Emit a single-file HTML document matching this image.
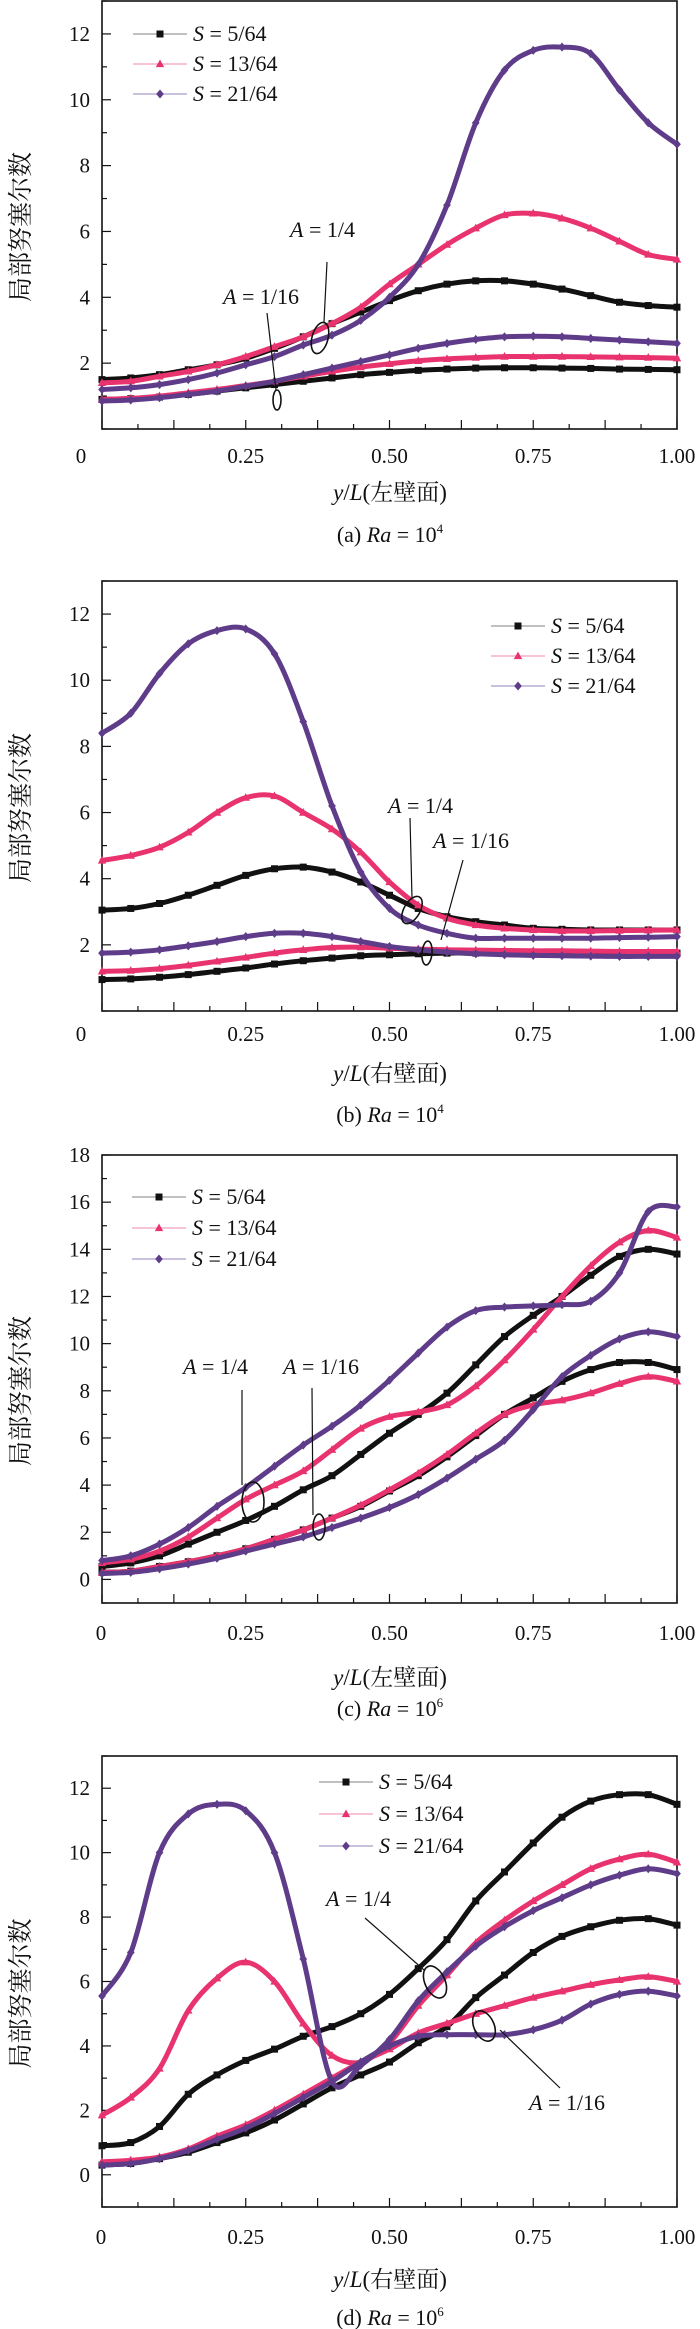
<!DOCTYPE html>
<html><head><meta charset="utf-8">
<style>
html,body{margin:0;padding:0;background:#fff;}
svg{display:block;}
text{font-family:"Liberation Serif","Noto Serif CJK SC","Noto Sans CJK SC",serif;fill:#111;}
</style></head>
<body>
<svg id="fig" width="700" height="2329" viewBox="0 0 700 2329" xmlns="http://www.w3.org/2000/svg"></svg>
<script>
// ---------- data ----------
const xs = [0,0.05,0.1,0.15,0.2,0.25,0.3,0.35,0.4,0.45,0.5,0.55,0.6,0.65,0.7,0.75,0.8,0.85,0.9,0.95,1];
const seriesNames = ["S = 5/64","S = 13/64","S = 21/64"];
const xTickLabels = ["0","0.25","0.50","0.75","1.00"];
const xTickValues = [0,0.25,0.5,0.75,1];
// panel a : Ra=1e4 left wall
const a_s5_q  = [1.5,1.55,1.65,1.8,1.95,2.15,2.45,2.8,3.2,3.55,3.9,4.2,4.4,4.5,4.5,4.4,4.25,4.05,3.85,3.75,3.7];
const a_s13_q = [1.4,1.45,1.6,1.75,1.95,2.2,2.5,2.8,3.2,3.7,4.4,5.0,5.6,6.1,6.5,6.55,6.4,6.1,5.7,5.3,5.15];
const a_s21_q = [1.2,1.25,1.35,1.5,1.7,1.95,2.2,2.55,2.85,3.3,4.0,5.0,6.8,9.3,10.9,11.5,11.6,11.4,10.3,9.3,8.65];
const a_s5_s  = [0.9,0.92,0.97,1.05,1.15,1.25,1.35,1.45,1.55,1.65,1.72,1.78,1.82,1.85,1.86,1.86,1.85,1.84,1.82,1.81,1.8];
const a_s13_s = [0.9,0.93,1.0,1.1,1.2,1.32,1.45,1.6,1.75,1.88,1.98,2.07,2.13,2.17,2.2,2.2,2.2,2.19,2.18,2.17,2.15];
const a_s21_s = [0.85,0.88,0.95,1.05,1.15,1.3,1.45,1.65,1.85,2.05,2.25,2.45,2.6,2.72,2.8,2.82,2.8,2.75,2.7,2.65,2.6];
// panel b : Ra=1e4 right wall
const b_s5_q  = [3.05,3.1,3.25,3.5,3.8,4.1,4.3,4.35,4.2,3.9,3.5,3.1,2.85,2.7,2.6,2.5,2.47,2.45,2.45,2.45,2.45];
const b_s13_q = [4.55,4.7,4.95,5.4,6.0,6.45,6.5,6.0,5.5,4.8,3.9,3.2,2.8,2.6,2.5,2.45,2.42,2.42,2.43,2.44,2.45];
const b_s21_q = [8.4,9.0,10.2,11.1,11.5,11.55,10.8,8.75,6.2,4.2,3.1,2.6,2.35,2.2,2.2,2.2,2.2,2.2,2.22,2.23,2.25];
const b_s5_s  = [0.95,0.97,1.02,1.1,1.2,1.3,1.42,1.52,1.6,1.67,1.7,1.73,1.75,1.75,1.75,1.75,1.75,1.75,1.75,1.75,1.75];
const b_s13_s = [1.2,1.22,1.28,1.38,1.5,1.62,1.75,1.85,1.92,1.93,1.9,1.87,1.85,1.84,1.83,1.82,1.82,1.81,1.8,1.8,1.8];
const b_s21_s = [1.75,1.78,1.85,1.97,2.1,2.25,2.35,2.35,2.25,2.1,1.95,1.85,1.78,1.73,1.7,1.68,1.67,1.66,1.65,1.65,1.65];
// panel c : Ra=1e6 left wall
const c_s5_q  = [0.55,0.7,1.0,1.5,2.0,2.5,3.1,3.8,4.4,5.3,6.2,7.0,7.9,9.1,10.3,11.2,12.0,12.9,13.7,14.0,13.8];
const c_s13_q = [0.7,0.85,1.2,1.8,2.6,3.4,4.0,4.6,5.5,6.4,6.9,7.1,7.4,8.2,9.3,10.6,12.0,13.3,14.3,14.8,14.5];
const c_s21_q = [0.8,1.0,1.5,2.2,3.1,3.9,4.8,5.7,6.5,7.4,8.45,9.6,10.7,11.4,11.55,11.6,11.65,11.8,13.0,15.6,15.8];
const c_s5_s  = [0.3,0.35,0.55,0.75,1.0,1.3,1.7,2.1,2.6,3.1,3.75,4.4,5.2,6.1,7.0,7.7,8.4,8.9,9.2,9.2,8.9];
const c_s13_s = [0.3,0.35,0.55,0.75,1.0,1.3,1.7,2.1,2.6,3.15,3.8,4.5,5.3,6.2,7.0,7.4,7.6,7.9,8.3,8.6,8.4];
const c_s21_s = [0.25,0.3,0.45,0.65,0.9,1.2,1.5,1.8,2.2,2.6,3.05,3.6,4.3,5.1,5.9,7.2,8.6,9.5,10.2,10.5,10.3];
// panel d : Ra=1e6 right wall
const d_s5_q  = [0.9,1.0,1.5,2.5,3.1,3.55,3.9,4.3,4.6,5.0,5.6,6.4,7.3,8.5,9.4,10.3,11.1,11.6,11.8,11.8,11.5];
const d_s13_q = [1.85,2.4,3.3,5.1,6.1,6.6,6.0,4.7,3.7,3.5,4.1,5.25,6.2,7.2,7.9,8.5,9.0,9.5,9.8,9.95,9.7];
const d_s21_q = [5.55,6.9,10.0,11.2,11.5,11.3,10.0,6.7,2.9,3.4,4.2,5.4,6.3,7.1,7.7,8.2,8.6,9.0,9.3,9.5,9.35];
const d_s5_s  = [0.3,0.35,0.5,0.7,1.0,1.3,1.7,2.2,2.7,3.1,3.5,4.1,4.6,5.5,6.2,6.9,7.4,7.7,7.9,7.95,7.75];
const d_s13_s = [0.4,0.45,0.55,0.8,1.2,1.55,2.0,2.5,3.0,3.5,3.9,4.4,4.7,5.0,5.25,5.5,5.7,5.9,6.05,6.15,6.0];
const d_s21_s = [0.3,0.35,0.5,0.75,1.1,1.45,1.9,2.4,2.9,3.5,4.0,4.3,4.35,4.35,4.35,4.5,4.8,5.3,5.6,5.7,5.55];
const yTicksA = [2,4,6,8,10,12];
const yTicksC = [0,2,4,6,8,10,12,14,16,18];
const yTicksD = [0,2,4,6,8,10,12];

// ---------- rendering ----------
const NS="http://www.w3.org/2000/svg";
const svg=document.getElementById('fig');
const COLORS=["#111111","#e8336e","#5e3c8a"];
const LEG_LINE=["#9a9a9a","#f3a0bb","#ab9ccb"];
function mk(tag,attrs,parent){const e=document.createElementNS(NS,tag);for(const k in attrs)e.setAttribute(k,attrs[k]);(parent||svg).appendChild(e);return e;}
function txt(parent,x,y,str,size,anchor){const t=mk('text',{x:x,y:y,'font-size':size,'text-anchor':anchor||'middle'},parent);t.textContent=str;return t;}

const L=102,R=677;
const panels=[
 {id:'a',top:1,bot:429,ymin:0,ymax:13,ticks:yTicksA,series:[[a_s5_q,a_s5_s],[a_s13_q,a_s13_s],[a_s21_q,a_s21_s]],
  xtitle:'左壁面',cap:'(a)',exp:'4',labY:456,titleY:493,capY:535,zeroX:81,leg:{x:133,y:34,dy:30},
  ann:[{t:'1/16',tx:223,ty:304,l:[267,313,276,390],e:[277,400,4,10,0]},{t:'1/4',tx:290,ty:237,l:[327,262,324,322],e:[320,338,8,16,15]}]},
 {id:'b',top:581,bot:1011,ymin:0,ymax:13,ticks:yTicksA,series:[[b_s5_q,b_s5_s],[b_s13_q,b_s13_s],[b_s21_q,b_s21_s]],
  xtitle:'右壁面',cap:'(b)',exp:'4',labY:1034,titleY:1074,capY:1115,zeroX:81,leg:{x:491,y:626,dy:30},
  ann:[{t:'1/4',tx:388,ty:813,l:[410,818,412,898],e:[412,910,8,15,30]},{t:'1/16',tx:433,ty:848,l:[463,860,441,940],e:[427,953,5,12,5]}]},
 {id:'c',top:1155,bot:1603,ymin:-1,ymax:18,ticks:yTicksC,series:[[c_s5_q,c_s5_s],[c_s13_q,c_s13_s],[c_s21_q,c_s21_s]],
  xtitle:'左壁面',cap:'(c)',exp:'6',labY:1633,titleY:1678,capY:1709,zeroX:101,leg:{x:132,y:1197,dy:31},
  ann:[{t:'1/4',tx:183,ty:1374,l:[242,1390,242,1485],e:[253,1502,11,20,0]},{t:'1/16',tx:283,ty:1374,l:[312,1388,313,1515],e:[319,1527,6,13,0]}]},
 {id:'d',top:1756,bot:2207,ymin:-1,ymax:13,ticks:yTicksD,series:[[d_s5_q,d_s5_s],[d_s13_q,d_s13_s],[d_s21_q,d_s21_s]],
  xtitle:'右壁面',cap:'(d)',exp:'6',labY:2237,titleY:2280,capY:2318,zeroX:101,leg:{x:319,y:1782,dy:32},
  ann:[{t:'1/4',tx:326,ty:1906,l:[365,1918,424,1970],e:[435,1982,10,17,-25]},{t:'1/16',tx:529,ty:2110,l:[560,2088,500,2030],e:[484,2026,10,16,-25]}]}
];

function smoothPath(pts){
  let d='M'+pts[0][0].toFixed(1)+','+pts[0][1].toFixed(1);
  for(let i=0;i<pts.length-1;i++){
    const p0=pts[Math.max(0,i-1)],p1=pts[i],p2=pts[i+1],p3=pts[Math.min(pts.length-1,i+2)];
    const c1x=p1[0]+(p2[0]-p0[0])/6,c1y=p1[1]+(p2[1]-p0[1])/6;
    const c2x=p2[0]-(p3[0]-p1[0])/6,c2y=p2[1]-(p3[1]-p1[1])/6;
    d+=' C'+c1x.toFixed(1)+','+c1y.toFixed(1)+' '+c2x.toFixed(1)+','+c2y.toFixed(1)+' '+p2[0].toFixed(1)+','+p2[1].toFixed(1);
  }
  return d;
}
function marker(g,k,x,y,s){
  if(k===0) return mk('rect',{x:x-s/2,y:y-s/2,width:s,height:s,fill:COLORS[0]},g);
  if(k===1) return mk('polygon',{points:`${x},${y-s*0.65} ${x+s*0.6},${y+s*0.45} ${x-s*0.6},${y+s*0.45}`,fill:COLORS[1]},g);
  return mk('polygon',{points:`${x},${y-s*0.65} ${x+s*0.55},${y} ${x},${y+s*0.65} ${x-s*0.55},${y}`,fill:COLORS[2]},g);
}

panels.forEach(p=>{
  const g=mk('g',{});
  
  
  const sx=v=>L+(R-L)*v;
  const sy=v=>p.bot-(v-p.ymin)/(p.ymax-p.ymin)*(p.bot-p.top);
  const fr=mk('rect',{x:L,y:p.top,width:R-L,height:p.bot-p.top,fill:'none',stroke:'#111','stroke-width':1.6},g);
  
  
  for(let i=0;i<=16;i++){
    const x=sx(i/16);const len=(i%2===0)?9:5;
    const t=mk('line',{x1:x,y1:p.bot,x2:x,y2:p.bot-len,stroke:'#111','stroke-width':1.2},g);
    
    
  }
  xTickValues.forEach((v,i)=>{
    const x=(i===0)?p.zeroX:sx(v);
    const t=txt(g,x,p.labY+7,xTickLabels[i],21);
    
    
  });
  for(let v=Math.ceil(p.ymin);v<=Math.floor(p.ymax);v++){
    const major=p.ticks.indexOf(v)>=0;
    const y=sy(v);
    const t=mk('line',{x1:L,y1:y,x2:L+(major?9:5),y2:y,stroke:'#111','stroke-width':1.2},g);
    
    
  }
  p.ticks.forEach(v=>{
    const t=txt(g,90,sy(v)+7,String(v),21,'end');
    
    
  });
  const cy=(p.top+p.bot)/2+12;
  const yt=mk('text',{x:0,y:0,'font-size':25,'text-anchor':'middle',transform:`translate(29,${cy}) rotate(-90)`,fill:'#222'},g);
  yt.textContent='局部努塞尔数';
  
  
  const xt=mk('text',{x:390,y:p.titleY+7,'font-size':23,'text-anchor':'middle'},g);
  xt.innerHTML='<tspan font-style="italic">y</tspan>/<tspan font-style="italic">L</tspan>('+p.xtitle+')';
  
  
  const cp=mk('text',{x:390,y:p.capY+7,'font-size':22,'text-anchor':'middle'},g);
  cp.innerHTML=p.cap+' <tspan font-style="italic">Ra</tspan> = 10<tspan font-size="13" dy="-9">'+p.exp+'</tspan>';
  
  
  p.series.forEach((pair,k)=>{
    pair.forEach((vals,j)=>{
      const sg=mk('g',{},g);
      
      
      const pts=vals.map((v,i)=>[sx(xs[i]),sy(v)]);
      const path=mk('path',{d:smoothPath(pts),fill:'none',stroke:COLORS[k],'stroke-width':5,'stroke-linejoin':'round','stroke-linecap':'round'},sg);
      
      
      pts.forEach(pt=>{
        const m=marker(sg,k,pt[0],pt[1],7);
        
        
      });
    });
  });
  const lg=mk('g',{},g);
  
  
  seriesNames.forEach((nm,k)=>{
    const y=p.leg.y+k*p.leg.dy;
    const eg=mk('g',{},lg);
    
    
    mk('line',{x1:p.leg.x,y1:y,x2:p.leg.x+54,y2:y,stroke:LEG_LINE[k],'stroke-width':1.3},eg);
    marker(eg,k,p.leg.x+27,y,7);
    const t=mk('text',{x:p.leg.x+60,y:y+7,'font-size':22,'text-anchor':'start'},eg);
    t.innerHTML='<tspan font-style="italic">S</tspan>'+nm.slice(1);
  });
  p.ann.forEach(a=>{
    const ag=mk('g',{},g);
    
    
    const t=mk('text',{x:a.tx,y:a.ty,'font-size':22,'text-anchor':'start'},ag);
    t.innerHTML='<tspan font-style="italic">A</tspan> = '+a.t;
    mk('line',{x1:a.l[0],y1:a.l[1],x2:a.l[2],y2:a.l[3],stroke:'#111','stroke-width':1.2},ag);
    mk('ellipse',{cx:a.e[0],cy:a.e[1],rx:a.e[2],ry:a.e[3],fill:'none',stroke:'#111','stroke-width':1.6,transform:`rotate(${a.e[4]} ${a.e[0]} ${a.e[1]})`},ag);
  });
});
</script>
</body></html>
